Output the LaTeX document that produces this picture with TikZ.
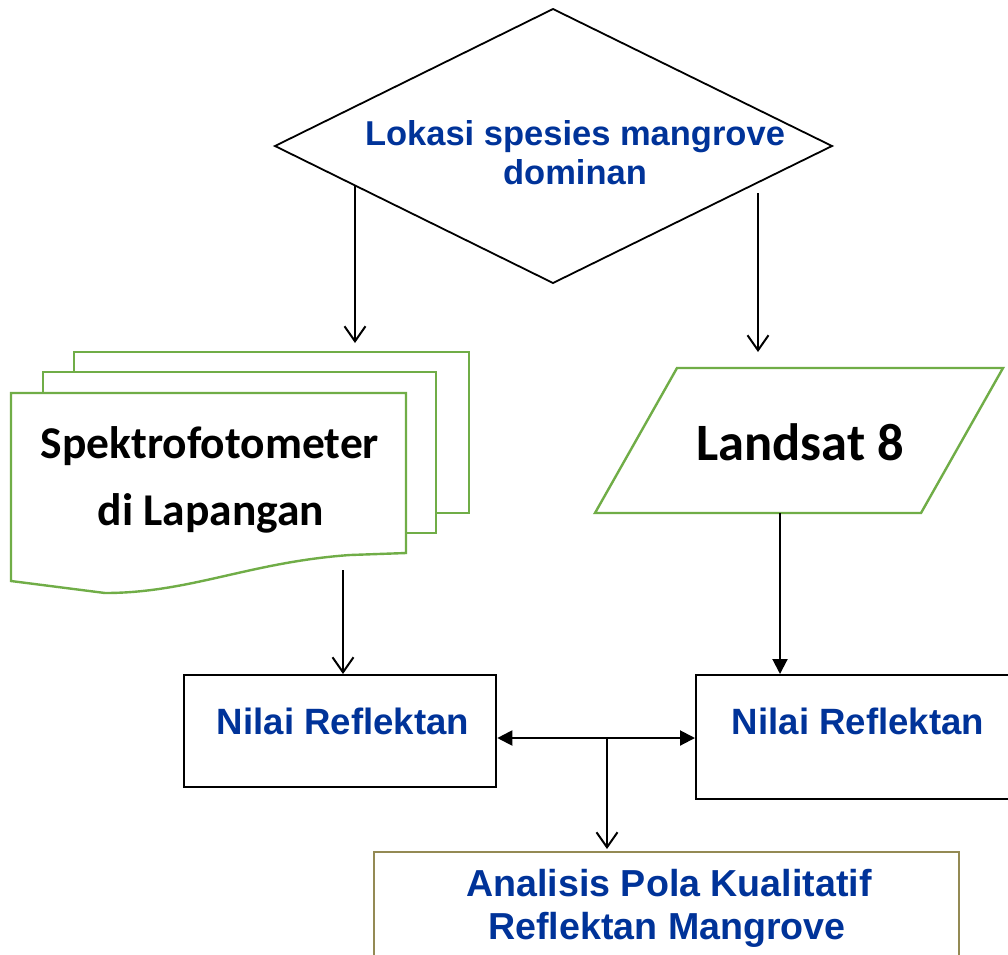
\documentclass[tikz,border=0pt]{standalone}
\usepackage{fontspec}
\usetikzlibrary{arrows.meta}
\newfontfamily\arialf{Liberation Sans}
\newfontfamily\calf{Carlito}
\definecolor{tblue}{HTML}{003399}
\definecolor{dgreen}{HTML}{70AD47}
\definecolor{olivebox}{HTML}{948A54}
\begin{document}
\begin{tikzpicture}[x=1pt,y=-1pt,
  bluetxt/.style={font=\arialf\bfseries\fontsize{#1}{#1}\selectfont, text=tblue, inner sep=0pt, anchor=base},
  blacktxt/.style={font=\calf\bfseries\fontsize{#1}{#1}\selectfont, text=black, inner sep=0pt, anchor=base},
  conn/.style={line width=2pt, black},
  openarr/.style={conn, -{Straight Barb[length=15pt,width=21pt]}},
  fillarr/.style={conn, -{Triangle[length=15pt,width=15pt]}},
  bothfill/.style={conn, {Triangle[length=15pt,width=15pt]}-{Triangle[length=15pt,width=15pt]}},
  docshape/.style={draw=dgreen, line width=2.4pt, fill=white},
  boxnode/.style={draw=black, line width=2.3pt, fill=white, rectangle, inner sep=0pt, anchor=north west}
]
\useasboundingbox (0,0) rectangle (1008,954);
\fill[white] (0,0) rectangle (1008,954);

% diamond
\coordinate (dT) at (553,9);
\coordinate (dL) at (275,146);
\coordinate (dB) at (553,283);
\coordinate (dR) at (832,146);
\draw[line width=1.8pt, fill=white] (dT) -- (dR) -- (dB) -- (dL) -- cycle;
\node[bluetxt=34.5] (lok1) at (575,145) {Lokasi spesies mangrove};
\node[bluetxt=34.5] (lok2) at (575,184) {dominan};

% documents (multi-document)
\draw[docshape] (74,352) rectangle (469,513);
\draw[docshape] (43,372) rectangle (436,533);
\draw[docshape] (11,393) -- (406,393) -- (406,553) -- (350,555)
   .. controls (250,562) and (190,593) .. (105,593) -- (11,581) -- cycle;
\node[blacktxt=45.5] (spek1) at (210,458) {Spektrofotometer};
\node[blacktxt=45.5] (spek2) at (211,525) {di Lapangan};

% parallelogram
\coordinate (pTL) at (677,368);
\coordinate (pTR) at (1003,368);
\coordinate (pBR) at (921,513);
\coordinate (pBL) at (595,513);
\draw[draw=dgreen, line width=2.4pt, fill=white] (pTL) -- (pTR) -- (pBR) -- (pBL) -- cycle;
\node[blacktxt=52.5] (land) at (800,460) {Landsat 8};

% boxes
\node[boxnode, minimum width=312pt, minimum height=112pt] (nl) at (183,674) {};
\node[boxnode, minimum width=326pt, minimum height=124pt] (nr) at (695,674) {};
\node[bluetxt=36.6] (nltxt) at (343,734) {Nilai Reflektan};
\node[bluetxt=36.6] (nrtxt) at (858,734) {Nilai Reflektan};

\node[boxnode, draw=olivebox, minimum width=585pt, minimum height=160pt] (an) at (373,851) {};
\node[bluetxt=37.6] (an1) at (669,896) {Analisis Pola Kualitatif};
\node[bluetxt=37.6] (an2) at (667,939) {Reflektan Mangrove};

% connectors
\coordinate (aL0) at (355,185);
\coordinate (aL1) at (355,343);
\coordinate (aR0) at (758,193);
\coordinate (aR1) at (758,352);
\draw[openarr] (aL0) -- (aL1);
\draw[openarr] (aR0) -- (aR1);

\coordinate (docout) at (343,570);
\draw[openarr] (docout) -- (docout |- nl.north);

\coordinate (landout) at (780,513);
\draw[fillarr] (landout) -- (landout |- nr.north);

\coordinate (mid) at (607,738);
\draw[bothfill] (nl.east |- mid) -- (nr.west |- mid);
\draw[openarr] (mid) -- (607,849);
\end{tikzpicture}
\end{document}
